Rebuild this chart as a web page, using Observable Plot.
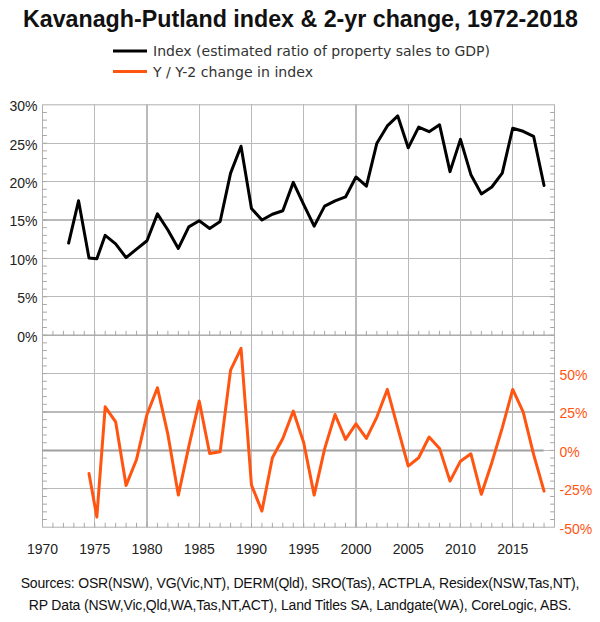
<!DOCTYPE html>
<html><head><meta charset="utf-8">
<script src="https://cdn.jsdelivr.net/npm/d3@7"></script>
<script src="https://cdn.jsdelivr.net/npm/@observablehq/plot@0.6"></script>
<style>
body{margin:0;background:#fff;width:600px;height:622px;position:relative;overflow:hidden;}
#head{position:absolute;left:0;top:0;}
#chart{position:absolute;left:0;top:90px;}
#foot{position:absolute;left:0;top:572px;width:600px;text-align:center;font-family:"Liberation Sans",Arial,sans-serif;font-size:14px;line-height:22px;color:#111;letter-spacing:-0.18px;white-space:nowrap;}
</style></head><body>
<svg id="head" width="600" height="90"></svg>
<div id="chart"></div>
<div id="foot"></div>
<script>
// ---- data ----
const titleText = "Kavanagh-Putland index & 2-yr change, 1972-2018";
const seriesNames = ["Index (estimated ratio of property sales to GDP)", "Y / Y-2 change in index"];
const seriesColors = ["#000000", "#ff5511"];
const sourceLines = [
  "Sources: OSR(NSW), VG(Vic,NT), DERM(Qld), SRO(Tas), ACTPLA, Residex(NSW,Tas,NT),",
  "RP Data (NSW,Vic,Qld,WA,Tas,NT,ACT), Land Titles SA, Landgate(WA), CoreLogic, ABS."
];
const indexYears = [1972.5, 1973.45, 1974.45, 1975.2, 1976, 1977, 1978, 1979, 1980, 1981, 1982, 1983, 1984, 1985, 1986, 1987, 1988, 1989, 1990, 1991, 1992, 1993, 1994, 1995, 1996, 1997, 1998, 1999, 2000, 2001, 2002, 2003, 2004, 2005, 2006, 2007, 2008, 2009, 2010, 2011, 2012, 2013, 2014, 2015, 2016, 2017, 2018];
const indexValues = [12.0, 17.5, 10.05, 9.95, 13.0, 11.9, 10.1, 11.2, 12.3, 15.8, 13.7, 11.3, 14.1, 14.9, 13.9, 14.8, 21.1, 24.6, 16.5, 15.0, 15.75, 16.2, 19.9, 17.0, 14.2, 16.8, 17.5, 18.0, 20.6, 19.4, 25.0, 27.25, 28.55, 24.4, 27.1, 26.5, 27.4, 21.3, 25.5, 20.9, 18.4, 19.3, 21.1, 26.95, 26.55, 25.9, 19.5];
const changeYears = [1974.45, 1975.2, 1976, 1977, 1978, 1979, 1980, 1981, 1982, 1983, 1984, 1985, 1986, 1987, 1988, 1989, 1990, 1991, 1992, 1993, 1994, 1995, 1996, 1997, 1998, 1999, 2000, 2001, 2002, 2003, 2004, 2005, 2006, 2007, 2008, 2009, 2010, 2011, 2012, 2013, 2014, 2015, 2016, 2017, 2018];
const changeValues = [-15, -43.4, 28.4, 18.6, -22.8, -5.9, 23.4, 40.8, 10.4, -29.1, 2.5, 32.1, -2, -0.9, 52.3, 66.4, -22.6, -39.5, -4.8, 7.8, 25.6, 5, -29.1, 1, 23.4, 7.2, 17.3, 7.8, 21.7, 39.7, 14.7, -10.2, -4.8, 8.7, 1.3, -20, -7, -2.2, -28.6, -8, 14.7, 39.7, 25.1, -2.6, -26.5];
const xTickLabels = [1970, 1975, 1980, 1985, 1990, 1995, 2000, 2005, 2010, 2015];
const leftTickLabels = [0, 5, 10, 15, 20, 25, 30];
const rightTickLabels = [-50, -25, 0, 25, 50];

// ---- layout / scale helpers ----
const W = 600, H = 475;
const mL = 42, mR = 46, mT = 14.3, mB = 38.3;
const frameW = W - mL - mR, frameH = H - mT - mB;
const xDomain = [1970, 2019];
const leftDomain = [-25, 30];
const tickX = 4 * (xDomain[1] - xDomain[0]) / frameW;          // 4px expressed in years
const tickY = 4 * (leftDomain[1] - leftDomain[0]) / frameH;    // 4px expressed in %
const toLeft = v => (v - 75) / 5;           // right-axis % -> left-axis %
const fromLeft = v => 5 * v + 75;
const allYears = d3.range(1971, 2019);
const gridYears = d3.range(1975, 2019, 5);
const leftGrid = d3.range(-20, 30, 5);
const minorLeft = d3.range(-24, 30, 1);
const lastYear = changeYears[changeYears.length - 1];

const indexData = indexYears.map((y, i) => ({year: y, value: indexValues[i]}));
const changeData = changeYears.map((y, i) => ({year: y, value: changeValues[i]}));

const seg = (k, x1, y1, x2, y2) => [{k, x: x1, y: y1}, {k, x: x2, y: y2}];
const tickSegs = [
  ...minorLeft.map(v => seg("tl" + v, xDomain[0], v, xDomain[0] + tickX, v)),
  ...minorLeft.map(v => seg("tr" + v, xDomain[1] - tickX, v, xDomain[1], v)),
  ...allYears.map(v => seg("tb" + v, v, leftDomain[0], v, leftDomain[0] + tickY)),
  ...allYears.map(v => seg("tm" + v, v, 0, v, tickY))
].flat();

const gridCol = "#bababa", tickCol = "#a8a8a8";
const chart = Plot.plot({
  width: W, height: H,
  marginLeft: mL, marginRight: mR, marginTop: mT, marginBottom: mB,
  x: {domain: xDomain},
  y: {domain: leftDomain},
  style: {fontFamily: "Liberation Sans, Arial, sans-serif", fontSize: "14px", background: "#fff", color: "#222"},
  marks: [
    Plot.frame({stroke: "#b0b0b0", fill: "none"}),
    Plot.tickX(gridYears, {x: d => d, stroke: gridCol, strokeWidth: 1.1, shapeRendering: "crispEdges"}),
    Plot.tickY(leftGrid, {y: d => d, stroke: gridCol, strokeWidth: 1.1, shapeRendering: "crispEdges"}),
    Plot.line(tickSegs, {x: "x", y: "y", z: "k", stroke: tickCol, strokeWidth: 1}),
    Plot.ruleY([{v: 0}], {y: "v", x1: xDomain[0], x2: xDomain[1], stroke: tickCol, strokeWidth: 1.2}),
    Plot.ruleY([{v: toLeft(0)}], {y: "v", x1: xDomain[0], x2: lastYear, stroke: "#a0a0a0", strokeWidth: 2}),
    Plot.axisY({ticks: leftTickLabels, tickSize: 0, tickPadding: 5, tickFormat: d => d + "%", fill: "#222", label: null, dy: 2}),
    Plot.axisY({anchor: "right", ticks: rightTickLabels.map(toLeft), tickSize: 0, tickPadding: 5, tickFormat: d => fromLeft(d) + "%", fill: seriesColors[1], label: null, dy: 2}),
    Plot.axisX({ticks: xTickLabels, tickSize: 0, tickPadding: 17, tickFormat: d => String(d), fill: "#222", label: null}),
    Plot.line(indexData, {x: "year", y: "value", stroke: seriesColors[0], strokeWidth: 3}),
    Plot.line(changeData, {x: "year", y: d => toLeft(d.value), stroke: seriesColors[1], strokeWidth: 3})
  ]
});
document.getElementById("chart").appendChild(chart);

// ---- header: title + legend ----
const head = d3.select("#head");
head.append("text").attr("x", 300.5).attr("y", 27).attr("text-anchor", "middle")
  .attr("font-family", "Liberation Sans, Arial, sans-serif").attr("font-weight", "bold").attr("font-size", 24)
  .attr("fill", "#111").attr("textLength", 555).attr("lengthAdjust", "spacingAndGlyphs").text(titleText);
const legendLens = [337, 160];
seriesNames.forEach((name, i) => {
  const cy = 51 + i * 20.5;
  head.append("line").attr("x1", 113).attr("x2", 147).attr("y1", cy).attr("y2", cy)
    .attr("stroke", seriesColors[i]).attr("stroke-width", 3);
  head.append("text").attr("x", 153).attr("y", cy + 5).attr("font-family", "DejaVu Sans, sans-serif")
    .attr("font-size", 13.5).attr("fill", "#333").attr("textLength", legendLens[i]).attr("lengthAdjust", "spacingAndGlyphs").text(name);
});

// ---- footer: sources ----
const foot = d3.select("#foot");
sourceLines.forEach(line => foot.append("div").text(line));
</script>
</body></html>
